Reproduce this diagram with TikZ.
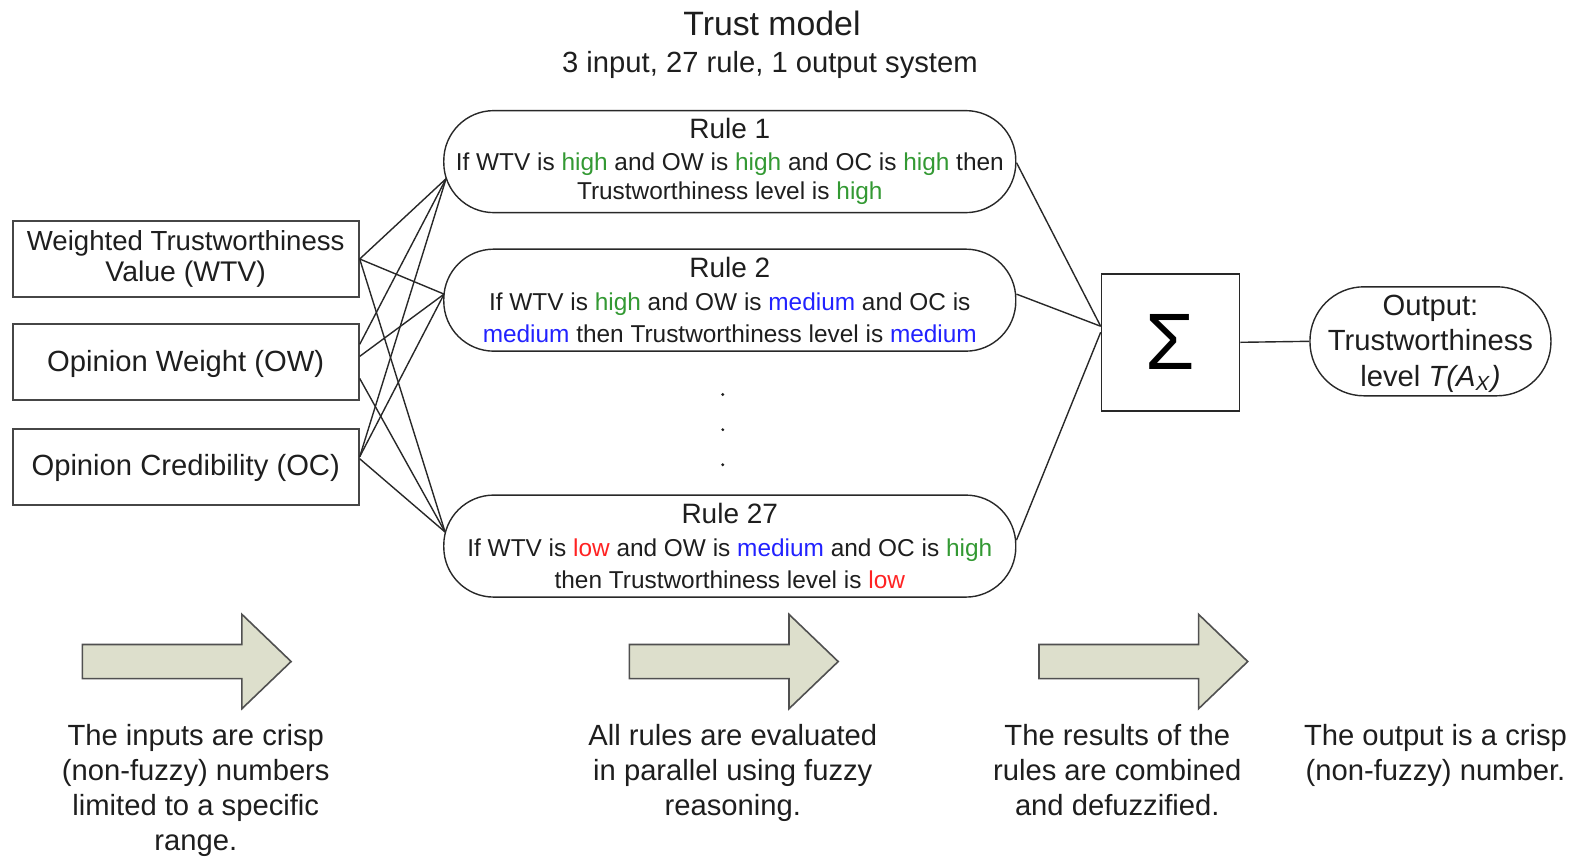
\documentclass[tikz,border=0pt]{standalone}
\usepackage{fontspec}
\setmainfont{Liberation Sans}
\usetikzlibrary{calc}
\definecolor{hgreen}{RGB}{51,153,51}
\definecolor{mblue}{RGB}{34,34,255}
\definecolor{lred}{RGB}{255,34,34}
\definecolor{txtc}{RGB}{30,30,30}
\definecolor{linec}{RGB}{40,40,40}
\definecolor{boxc}{RGB}{70,70,70}
\definecolor{arrfill}{RGB}{221,223,204}
\definecolor{arrdraw}{RGB}{80,80,80}
\newcommand{\cHigh}[1]{\textcolor{hgreen}{#1}}
\newcommand{\cMed}[1]{\textcolor{mblue}{#1}}
\newcommand{\cLow}[1]{\textcolor{lred}{#1}}
\begin{document}
\begin{tikzpicture}[x=0.50191pt,y=-0.50191pt,
  inbox/.style={draw=boxc, line width=1pt, minimum width=173pt, minimum height=38pt, inner sep=0pt, align=center, font=\fontsize{14.6}{15.5}\selectfont, text=txtc},
  rulebox/.style={draw=linec, line width=0.7pt, rounded corners=25pt, minimum width=286pt, minimum height=51pt, inner sep=0pt, align=center, font=\fontsize{12.2}{16.3}\selectfont, text=txtc},
  sigbox/.style={draw=linec, line width=0.8pt, minimum width=69pt, minimum height=68.5pt, inner sep=0pt},
  outbox/.style={draw=linec, line width=0.7pt, rounded corners=27pt, minimum width=120.5pt, minimum height=54.5pt, inner sep=0pt, align=center, font=\fontsize{14.6}{17.7}\selectfont, text=txtc},
  txt/.style={inner sep=0pt, align=center, font=\fontsize{14.6}{17.5}\selectfont, text=txtc},
  conn/.style={draw=linec, line width=0.7pt},
  blockarrow/.style={fill=arrfill, draw=arrdraw, line width=0.8pt, line join=miter}
]
\useasboundingbox (0,0) rectangle (1568,853);

% titles
\node[txt, font=\fontsize{16.9}{20}\selectfont] (title) at (769,23) {Trust model};
\node[txt] (subtitle) at (767,65) {3 input, 27 rule, 1 output system};

% inputs
\node[inbox] (wtv) at (185,258) {\fontsize{13.8}{15.5}\selectfont Weighted Trustworthiness\\\fontsize{14.2}{15.5}\selectfont Value (WTV)};
\node[inbox] (ow) at (185,361) {\rule{0pt}{12pt}Opinion Weight (OW)};
\node[inbox] (oc) at (185,465) {\rule{0pt}{12pt}Opinion Credibility (OC)};

% rules
\node[rulebox] (r1) at (727,161) {{\fontsize{14}{16.3}\selectfont Rule 1}\\[-0.6pt]If WTV is \cHigh{high} and OW is \cHigh{high} and OC is \cHigh{high} then\\[-1.6pt]Trustworthiness level is \cHigh{high}};
\node[rulebox] (r2) at (727,299) {{\fontsize{14}{16.3}\selectfont Rule 2}\\If WTV is \cHigh{high} and OW is \cMed{medium} and OC is\\\cMed{medium} then Trustworthiness level is \cMed{medium}};
\node[rulebox] (r27) at (727,544) {{\fontsize{14}{16.3}\selectfont Rule 27}\\If WTV is \cLow{low} and OW is \cMed{medium} and OC is \cHigh{high}\\then Trustworthiness level is \cLow{low}};

% dots
\fill[txtc] (720,393) circle (0.8pt);
\fill[txtc] (720,428) circle (0.8pt);
\fill[txtc] (720,463) circle (0.8pt);

% sigma and output
\node[sigbox] (sig) at (1166,341) {\raisebox{-1.5pt}{\fontsize{40}{42}\selectfont Σ}};
\node[outbox] (out) at (1425,340) {\rule{0pt}{12.5pt}Output:\\Trustworthiness\\level \textit{T(A}\textsubscript{\textit{X}}\textit{)}};

% input -> rule connectors
\coordinate (r1in) at ($(r1.west)+(3,17)$);
\coordinate (r2in) at ($(r2.west)+(1,-6)$);
\coordinate (r27in) at ($(r27.west)+(2,-14)$);
\draw[conn] (wtv.east) -- (r1in);
\draw[conn] (wtv.east) -- (r2in);
\draw[conn] (wtv.east) -- (r27in);
\draw[conn] ($(ow.east)+(0,-18)$) -- (r1in);
\draw[conn] ($(ow.east)+(0,-6)$) -- (r2in);
\draw[conn] ($(ow.east)+(0,16)$) -- (r27in);
\draw[conn] ($(oc.east)+(0,-10)$) -- (r1in);
\draw[conn] ($(oc.east)+(0,-10)$) -- (r2in);
\draw[conn] ($(oc.east)+(0,-8)$) -- (r27in);

% rule -> sigma connectors
\draw[conn] ($(r1.east)+(0,1)$) -- ($(sig.west)+(0,-16)$);
\draw[conn] ($(r2.east)+(0,-6)$) -- ($(sig.west)+(0,-16)$);
\draw[conn] ($(r27.east)+(0,-6)$) -- ($(sig.west)+(0,-10)$);
\draw[conn] (sig.east) -- (out.west);

% block arrows
\foreach \dx in {0,545,953}{
  \draw[blockarrow] (82+\dx,642) -- (241+\dx,642) -- (241+\dx,612) -- (290+\dx,659) -- (241+\dx,706) -- (241+\dx,676) -- (82+\dx,676) -- cycle;
}

% bottom notes
\node[txt] (note1) at (195,787) {The inputs are crisp\\(non-fuzzy) numbers\\limited to a specific\\range.};
\node[txt] (note2) at (730,770) {All rules are evaluated\\in parallel using fuzzy\\reasoning.};
\node[txt] (note3) at (1113,767) {The results of the\\rules are combined\\and defuzzified.};
\node[txt] (note4) at (1430,753) {The output is a crisp\\(non-fuzzy) number.};
\end{tikzpicture}
\end{document}
